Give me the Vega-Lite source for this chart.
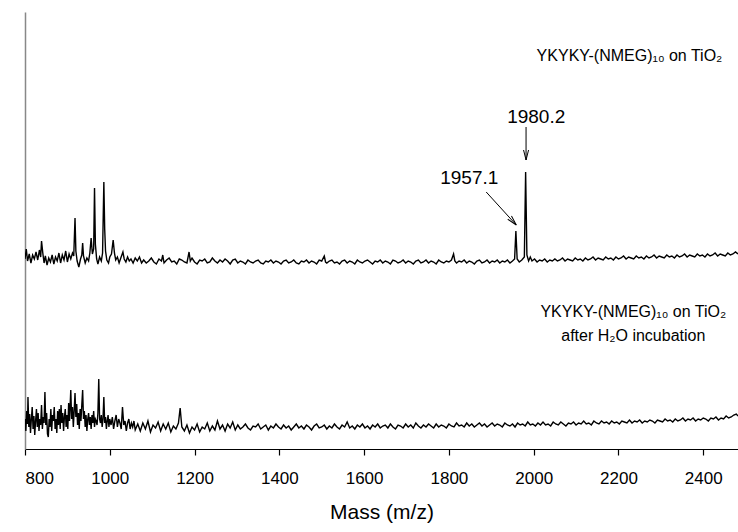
{
  "$schema": "https://vega.github.io/schema/vega-lite/v6.json",
  "width": 713,
  "height": 437,
  "autosize": {"type": "none"},
  "padding": {"left": 25, "top": 12, "right": 0, "bottom": 83},
  "background": "white",
  "config": {
    "view": {"stroke": null},
    "font": "Liberation Sans",
    "axis": {"labelFont": "Liberation Sans", "titleFont": "Liberation Sans"}
  },
  "datasets": {
    "top": [
      {"m":800,"v":190},{"m":803,"v":200},{"m":806,"v":188},{"m":810,"v":195},{"m":814,"v":186},{"m":818,"v":194},{"m":822,"v":190},{"m":826,"v":197},{"m":830,"v":189},{"m":834,"v":199},{"m":837,"v":192},{"m":839,"v":208},{"m":842,"v":196},{"m":845,"v":186},{"m":848,"v":193},{"m":852,"v":184},{"m":856,"v":191},{"m":860,"v":187},{"m":864,"v":194},{"m":868,"v":185},{"m":872,"v":192},{"m":876,"v":188},{"m":880,"v":196},{"m":884,"v":186},{"m":888,"v":194},{"m":892,"v":189},{"m":896,"v":198},{"m":900,"v":187},{"m":904,"v":195},{"m":908,"v":190},{"m":912,"v":196},{"m":915,"v":193},{"m":918,"v":231},{"m":920,"v":198},{"m":923,"v":188},{"m":927,"v":182},{"m":931,"v":190},{"m":934,"v":194},{"m":936,"v":206},{"m":938,"v":193},{"m":942,"v":186},{"m":946,"v":191},{"m":950,"v":188},{"m":953,"v":196},{"m":956,"v":211},{"m":959,"v":195},{"m":962,"v":200},{"m":964,"v":261},{"m":966,"v":205},{"m":969,"v":190},{"m":972,"v":185},{"m":976,"v":192},{"m":980,"v":188},{"m":983,"v":196},{"m":986,"v":267},{"m":988,"v":220},{"m":990,"v":198},{"m":993,"v":189},{"m":997,"v":186},{"m":1000,"v":192},{"m":1004,"v":195},{"m":1008,"v":209},{"m":1011,"v":196},{"m":1014,"v":189},{"m":1018,"v":192},{"m":1022,"v":186},{"m":1026,"v":191},{"m":1031,"v":197},{"m":1034,"v":190},{"m":1038,"v":187},{"m":1042,"v":192},{"m":1046,"v":188},{"m":1050,"v":190},{"m":1055,"v":186},{"m":1060,"v":191},{"m":1065,"v":188},{"m":1070,"v":192},{"m":1075,"v":186},
      {"m":1080,"v":189},{"m":1086,"v":186},{"m":1092,"v":188},{"m":1098,"v":191},{"m":1104,"v":187},{"m":1110,"v":185},{"m":1116,"v":190},{"m":1122,"v":188},{"m":1125,"v":194},{"m":1128,"v":186},{"m":1134,"v":189},{"m":1140,"v":191},{"m":1146,"v":187},{"m":1152,"v":188},{"m":1158,"v":185},{"m":1164,"v":190},{"m":1170,"v":189},{"m":1176,"v":187},{"m":1182,"v":186},{"m":1187,"v":197},{"m":1190,"v":188},{"m":1194,"v":191},{"m":1200,"v":187},{"m":1206,"v":185},{"m":1212,"v":189},{"m":1218,"v":188},{"m":1224,"v":190},{"m":1230,"v":186},{"m":1236,"v":187},{"m":1242,"v":191},{"m":1248,"v":188},{"m":1254,"v":186},{"m":1260,"v":189},{"m":1266,"v":187},{"m":1272,"v":190},{"m":1278,"v":188},{"m":1284,"v":185},{"m":1290,"v":189},{"m":1296,"v":190},
      {"m":1302,"v":186},{"m":1308,"v":188},{"m":1314,"v":187},{"m":1320,"v":185},{"m":1326,"v":189},{"m":1332,"v":187},{"m":1338,"v":186},{"m":1344,"v":188},{"m":1350,"v":189},{"m":1356,"v":186},{"m":1362,"v":185},{"m":1368,"v":188},{"m":1374,"v":187},{"m":1380,"v":189},{"m":1386,"v":186},{"m":1392,"v":188},{"m":1398,"v":187},{"m":1404,"v":185},{"m":1410,"v":188},{"m":1416,"v":189},{"m":1422,"v":186},{"m":1428,"v":187},{"m":1434,"v":189},{"m":1440,"v":186},{"m":1446,"v":185},{"m":1452,"v":188},{"m":1458,"v":187},{"m":1464,"v":189},{"m":1470,"v":186},{"m":1476,"v":188},{"m":1482,"v":187},{"m":1488,"v":185},{"m":1494,"v":189},{"m":1500,"v":188},{"m":1506,"v":193},{"m":1509,"v":187},{"m":1512,"v":186},{"m":1518,"v":188},{"m":1524,"v":189},{"m":1530,"v":186},{"m":1536,"v":187},{"m":1542,"v":185},{"m":1548,"v":188},{"m":1554,"v":189},{"m":1560,"v":186},{"m":1566,"v":188},{"m":1572,"v":187},{"m":1578,"v":185},{"m":1584,"v":189},{"m":1590,"v":187},{"m":1596,"v":186},{"m":1602,"v":188},{"m":1608,"v":189},{"m":1614,"v":187},{"m":1620,"v":185},{"m":1626,"v":188},{"m":1632,"v":187},{"m":1638,"v":189},{"m":1644,"v":186},{"m":1650,"v":188},{"m":1656,"v":187},{"m":1662,"v":185},{"m":1668,"v":189},{"m":1674,"v":188},{"m":1680,"v":186},{"m":1686,"v":187},{"m":1692,"v":189},{"m":1698,"v":186},{"m":1704,"v":188},{"m":1710,"v":187},{"m":1716,"v":185},{"m":1722,"v":188},{"m":1728,"v":189},{"m":1734,"v":186},{"m":1740,"v":187},{"m":1746,"v":189},{"m":1752,"v":186},{"m":1758,"v":188},{"m":1764,"v":187},{"m":1770,"v":185},{"m":1776,"v":189},{"m":1782,"v":187},{"m":1788,"v":186},{"m":1794,"v":188},{"m":1800,"v":187},{"m":1806,"v":189},{"m":1811,"v":195},{"m":1814,"v":188},{"m":1818,"v":186},{"m":1824,"v":188},{"m":1830,"v":187},{"m":1836,"v":189},{"m":1842,"v":186},{"m":1848,"v":188},{"m":1854,"v":187},{"m":1860,"v":185},{"m":1866,"v":188},{"m":1872,"v":189},{"m":1878,"v":186},{"m":1884,"v":187},{"m":1890,"v":189},{"m":1896,"v":186},{"m":1902,"v":188},{"m":1908,"v":187},{"m":1914,"v":189},{"m":1920,"v":186},{"m":1926,"v":188},{"m":1932,"v":187},{"m":1938,"v":189},{"m":1944,"v":186},{"m":1950,"v":188},{"m":1955,"v":190},{"m":1958,"v":218},{"m":1961,"v":190},{"m":1966,"v":187},{"m":1972,"v":189},{"m":1978,"v":192},{"m":1981,"v":277},{"m":1984,"v":194},{"m":1988,"v":188},{"m":1992,"v":192},{"m":1996,"v":188},
      {"m":2002,"v":190},{"m":2008,"v":187},{"m":2014,"v":189},{"m":2020,"v":188},{"m":2026,"v":190},{"m":2032,"v":187},{"m":2038,"v":189},{"m":2044,"v":188},{"m":2050,"v":190},{"m":2056,"v":188},{"m":2062,"v":189},{"m":2068,"v":191},{"m":2074,"v":188},{"m":2080,"v":190},{"m":2086,"v":189},{"m":2092,"v":188},{"m":2098,"v":191},{"m":2104,"v":189},{"m":2110,"v":190},{"m":2116,"v":188},{"m":2122,"v":191},{"m":2128,"v":189},{"m":2134,"v":190},{"m":2140,"v":192},{"m":2146,"v":189},{"m":2152,"v":191},{"m":2158,"v":190},{"m":2164,"v":189},{"m":2170,"v":192},{"m":2176,"v":190},{"m":2182,"v":191},{"m":2188,"v":189},{"m":2194,"v":192},{"m":2200,"v":190},{"m":2206,"v":191},{"m":2212,"v":193},{"m":2218,"v":190},{"m":2224,"v":192},{"m":2230,"v":191},{"m":2236,"v":190},{"m":2242,"v":193},{"m":2248,"v":191},{"m":2254,"v":192},{"m":2260,"v":190},{"m":2266,"v":193},{"m":2272,"v":191},{"m":2278,"v":192},{"m":2284,"v":194},{"m":2290,"v":191},{"m":2296,"v":193},{"m":2302,"v":192},{"m":2308,"v":191},{"m":2314,"v":194},{"m":2320,"v":192},{"m":2326,"v":193},{"m":2332,"v":191},{"m":2338,"v":194},{"m":2344,"v":192},{"m":2350,"v":193},{"m":2356,"v":195},{"m":2362,"v":192},{"m":2368,"v":194},{"m":2374,"v":193},{"m":2380,"v":192},{"m":2386,"v":195},{"m":2392,"v":193},{"m":2398,"v":194},{"m":2404,"v":192},{"m":2410,"v":195},{"m":2416,"v":193},{"m":2422,"v":194},{"m":2428,"v":196},{"m":2434,"v":193},{"m":2440,"v":195},{"m":2446,"v":194},{"m":2452,"v":193},{"m":2458,"v":196},{"m":2464,"v":194},{"m":2470,"v":195},{"m":2476,"v":197},{"m":2482,"v":195}
    ],
    "bottom": [
      {"m":800,"v":30},{"m":802,"v":18},{"m":804,"v":38},{"m":806,"v":25},{"m":807,"v":52},{"m":809,"v":22},{"m":811,"v":35},{"m":813,"v":16},{"m":815,"v":30},{"m":817,"v":42},{"m":819,"v":20},{"m":821,"v":33},{"m":823,"v":14},{"m":825,"v":28},{"m":827,"v":40},{"m":829,"v":22},{"m":831,"v":36},{"m":833,"v":18},{"m":835,"v":30},{"m":837,"v":24},{"m":839,"v":44},{"m":841,"v":20},{"m":843,"v":32},{"m":845,"v":26},{"m":847,"v":57},{"m":849,"v":24},{"m":851,"v":36},{"m":853,"v":15},{"m":855,"v":12},{"m":857,"v":30},{"m":859,"v":22},{"m":861,"v":40},{"m":863,"v":18},{"m":865,"v":34},{"m":867,"v":28},{"m":869,"v":42},{"m":871,"v":20},{"m":873,"v":30},{"m":875,"v":16},{"m":877,"v":38},{"m":879,"v":24},{"m":881,"v":40},{"m":883,"v":20},{"m":885,"v":44},{"m":887,"v":26},{"m":889,"v":36},{"m":891,"v":18},{"m":893,"v":32},{"m":895,"v":40},{"m":897,"v":22},{"m":899,"v":34},{"m":901,"v":20},{"m":903,"v":46},{"m":905,"v":28},{"m":908,"v":59},{"m":910,"v":30},{"m":912,"v":42},{"m":914,"v":22},{"m":916,"v":38},{"m":918,"v":56},{"m":920,"v":32},{"m":922,"v":45},{"m":924,"v":24},{"m":926,"v":36},{"m":928,"v":20},{"m":930,"v":40},{"m":932,"v":28},{"m":934,"v":44},{"m":936,"v":59},{"m":938,"v":30},{"m":940,"v":38},{"m":942,"v":22},{"m":944,"v":34},{"m":946,"v":18},{"m":948,"v":30},{"m":950,"v":36},{"m":952,"v":24},{"m":954,"v":32},{"m":956,"v":20},{"m":958,"v":34},{"m":960,"v":26},{"m":962,"v":38},{"m":964,"v":22},{"m":966,"v":30},{"m":968,"v":28},{"m":970,"v":24},{"m":972,"v":36},{"m":974,"v":70},{"m":976,"v":30},{"m":978,"v":26},{"m":980,"v":34},{"m":982,"v":22},{"m":984,"v":30},{"m":986,"v":52},{"m":988,"v":26},{"m":990,"v":32},{"m":992,"v":20},{"m":994,"v":28},{"m":996,"v":34},{"m":998,"v":22},{"m":1000,"v":30},{"m":1003,"v":24},{"m":1006,"v":32},{"m":1009,"v":20},{"m":1012,"v":28},{"m":1015,"v":34},{"m":1018,"v":22},{"m":1021,"v":30},{"m":1024,"v":26},{"m":1027,"v":20},{"m":1030,"v":42},{"m":1033,"v":24},{"m":1036,"v":28},{"m":1039,"v":18},{"m":1042,"v":26},{"m":1045,"v":30},{"m":1048,"v":20},{"m":1051,"v":26},{"m":1054,"v":22},{"m":1057,"v":28},{"m":1060,"v":19},
      {"m":1066,"v":25},{"m":1072,"v":18},{"m":1078,"v":26},{"m":1084,"v":20},{"m":1090,"v":28},{"m":1096,"v":17},{"m":1102,"v":24},{"m":1108,"v":21},{"m":1114,"v":27},{"m":1120,"v":18},{"m":1126,"v":25},{"m":1132,"v":20},{"m":1138,"v":26},{"m":1144,"v":17},{"m":1150,"v":23},{"m":1156,"v":20},{"m":1162,"v":26},{"m":1166,"v":41},{"m":1170,"v":22},{"m":1176,"v":18},{"m":1182,"v":24},{"m":1188,"v":16},{"m":1194,"v":22},{"m":1200,"v":19},{"m":1206,"v":25},{"m":1212,"v":17},{"m":1218,"v":22},{"m":1224,"v":20},{"m":1230,"v":26},{"m":1236,"v":18},{"m":1242,"v":23},{"m":1248,"v":19},{"m":1254,"v":28},{"m":1260,"v":20},{"m":1266,"v":24},{"m":1272,"v":18},{"m":1278,"v":25},{"m":1284,"v":21},{"m":1290,"v":27},{"m":1296,"v":19},
      {"m":1302,"v":24},{"m":1308,"v":20},{"m":1314,"v":22},{"m":1320,"v":25},{"m":1326,"v":21},{"m":1332,"v":19},{"m":1338,"v":23},{"m":1344,"v":22},{"m":1350,"v":25},{"m":1356,"v":20},{"m":1362,"v":22},{"m":1368,"v":24},{"m":1374,"v":19},{"m":1380,"v":23},{"m":1386,"v":21},{"m":1392,"v":25},{"m":1398,"v":22},{"m":1404,"v":20},{"m":1410,"v":24},{"m":1416,"v":21},{"m":1422,"v":23},{"m":1428,"v":19},{"m":1434,"v":22},{"m":1440,"v":25},{"m":1446,"v":21},{"m":1452,"v":23},{"m":1458,"v":20},{"m":1464,"v":24},{"m":1470,"v":22},{"m":1476,"v":19},{"m":1482,"v":23},{"m":1488,"v":25},{"m":1494,"v":21},{"m":1500,"v":22},{"m":1506,"v":24},{"m":1512,"v":20},{"m":1518,"v":23},{"m":1524,"v":21},{"m":1530,"v":25},{"m":1536,"v":22},{"m":1542,"v":20},{"m":1548,"v":24},{"m":1554,"v":22},{"m":1560,"v":27},{"m":1566,"v":21},{"m":1572,"v":23},{"m":1578,"v":20},{"m":1584,"v":24},{"m":1590,"v":22},{"m":1596,"v":25},{"m":1602,"v":21},{"m":1608,"v":23},{"m":1614,"v":20},{"m":1620,"v":24},{"m":1626,"v":22},{"m":1632,"v":25},{"m":1638,"v":21},{"m":1644,"v":23},{"m":1650,"v":24},{"m":1656,"v":21},{"m":1662,"v":25},{"m":1668,"v":22},{"m":1674,"v":20},{"m":1680,"v":24},{"m":1686,"v":23},{"m":1692,"v":21},{"m":1698,"v":25},{"m":1704,"v":22},{"m":1710,"v":24},{"m":1716,"v":21},{"m":1722,"v":26},{"m":1728,"v":23},{"m":1734,"v":21},{"m":1740,"v":24},{"m":1746,"v":22},{"m":1752,"v":25},{"m":1758,"v":23},{"m":1764,"v":21},{"m":1770,"v":25},{"m":1776,"v":22},{"m":1782,"v":24},{"m":1788,"v":23},{"m":1794,"v":21},{"m":1800,"v":25},{"m":1806,"v":23},{"m":1812,"v":22},{"m":1818,"v":26},{"m":1824,"v":23},{"m":1830,"v":24},{"m":1836,"v":22},{"m":1842,"v":26},{"m":1848,"v":23},{"m":1854,"v":25},{"m":1860,"v":22},{"m":1866,"v":24},{"m":1872,"v":26},{"m":1878,"v":23},{"m":1884,"v":25},{"m":1890,"v":22},{"m":1896,"v":24},{"m":1902,"v":26},{"m":1908,"v":23},{"m":1914,"v":25},{"m":1920,"v":24},{"m":1926,"v":22},{"m":1932,"v":26},{"m":1938,"v":24},{"m":1944,"v":23},{"m":1950,"v":25},{"m":1956,"v":22},{"m":1962,"v":26},{"m":1968,"v":24},{"m":1974,"v":25},{"m":1980,"v":23},{"m":1986,"v":27},{"m":1992,"v":24},{"m":1998,"v":25},{"m":2004,"v":23},{"m":2010,"v":26},{"m":2016,"v":24},{"m":2022,"v":27},{"m":2028,"v":24},{"m":2034,"v":25},{"m":2040,"v":23},{"m":2046,"v":27},{"m":2052,"v":25},{"m":2058,"v":24},{"m":2064,"v":27},{"m":2070,"v":25},{"m":2076,"v":23},{"m":2082,"v":26},{"m":2088,"v":25},{"m":2094,"v":27},{"m":2100,"v":24},{"m":2106,"v":26},{"m":2112,"v":25},{"m":2118,"v":28},{"m":2124,"v":25},{"m":2130,"v":26},{"m":2136,"v":24},{"m":2142,"v":28},{"m":2148,"v":26},{"m":2154,"v":25},{"m":2160,"v":28},{"m":2166,"v":26},{"m":2172,"v":27},{"m":2178,"v":25},{"m":2184,"v":28},{"m":2190,"v":26},{"m":2196,"v":27},{"m":2202,"v":25},{"m":2208,"v":28},{"m":2214,"v":27},{"m":2220,"v":26},{"m":2226,"v":29},{"m":2232,"v":26},{"m":2238,"v":28},{"m":2244,"v":27},{"m":2250,"v":29},{"m":2256,"v":26},{"m":2262,"v":28},{"m":2268,"v":27},{"m":2274,"v":29},{"m":2280,"v":28},{"m":2286,"v":26},{"m":2292,"v":29},{"m":2298,"v":28},{"m":2304,"v":27},{"m":2310,"v":30},{"m":2316,"v":28},{"m":2322,"v":29},{"m":2328,"v":27},{"m":2334,"v":30},{"m":2340,"v":28},{"m":2346,"v":29},{"m":2352,"v":31},{"m":2358,"v":28},{"m":2364,"v":30},{"m":2370,"v":29},{"m":2376,"v":31},{"m":2382,"v":28},{"m":2388,"v":30},{"m":2394,"v":29},{"m":2400,"v":31},{"m":2406,"v":30},{"m":2412,"v":28},{"m":2418,"v":31},{"m":2424,"v":30},{"m":2430,"v":32},{"m":2436,"v":29},{"m":2442,"v":31},{"m":2448,"v":30},{"m":2454,"v":33},{"m":2460,"v":31},{"m":2466,"v":32},{"m":2472,"v":34},{"m":2478,"v":35},{"m":2482,"v":33}
    ],
    "arrows": [
      {"m":1982,"v":322,"m2":1982,"v2":289},
      {"m":1888,"v":257,"m2":1959,"v2":224}
    ],
    "heads": [
      {"m":1982,"v":289,"angle":0},
      {"m":1959,"v":224,"angle":-42}
    ],
    "peaklabels": [
      {"m":2006,"v":332,"label":"1980.2"},
      {"m":1848,"v":271,"label":"1957.1"}
    ],
    "rightlabels": [
      {"m":2445,"v":393,"label":"YKYKY-(NMEG)₁₀ on TiO₂"}
    ],
    "centerlabels": [
      {"m":2235,"v":137,"label":"YKYKY-(NMEG)₁₀ on TiO₂"},
      {"m":2235,"v":113,"label":"after H₂O incubation"}
    ]
  },
  "encoding": {
    "x": {
      "field": "m", "type": "quantitative",
      "scale": {"domain": [800, 2482], "nice": false, "zero": false},
      "axis": {
        "title": "Mass (m/z)", "values": [800,1000,1200,1400,1600,1800,2000,2200,2400],
        "format": "d", "grid": false, "domainColor": "#000", "domainWidth": 1.2,
        "tickColor": "#000", "tickSize": 6, "tickWidth": 1.2,
        "labelFontSize": 17, "labelColor": "#000", "labelPadding": 15,
        "titleFontSize": 21, "titleFontWeight": "normal", "titleColor": "#000", "titlePadding": 15
      }
    },
    "y": {
      "field": "v", "type": "quantitative",
      "scale": {"domain": [0, 437], "nice": false},
      "axis": {"title": null, "labels": false, "ticks": false, "grid": false, "domainColor": "#888", "domainWidth": 1.5}
    }
  },
  "layer": [
    {"data": {"name": "top"}, "mark": {"type": "line", "color": "#000", "strokeWidth": 1.4, "clip": true}},
    {"data": {"name": "bottom"}, "mark": {"type": "line", "color": "#000", "strokeWidth": 1.4, "clip": true}},
    {"data": {"values": [{}]}, "mark": {"type": "rule", "color": "#444", "strokeWidth": 1.5}, "encoding": {"x": null, "y": {"datum": 437}}},
    {"data": {"name": "arrows"}, "mark": {"type": "rule", "color": "#000", "strokeWidth": 1}, "encoding": {"x2": {"field": "m2"}, "y2": {"field": "v2"}}},
    {"data": {"name": "heads"}, "mark": {"type": "point", "shape": "M -0.25 -1 L 0 0 L 0.25 -1", "filled": false, "stroke": "#000", "strokeWidth": 1, "size": 400, "opacity": 1}, "encoding": {"angle": {"field": "angle", "type": "quantitative", "scale": null}}},
    {"data": {"name": "peaklabels"}, "mark": {"type": "text", "fontSize": 19, "color": "#000", "align": "center", "baseline": "middle"}, "encoding": {"text": {"field": "label"}}},
    {"data": {"name": "rightlabels"}, "mark": {"type": "text", "fontSize": 16, "color": "#000", "align": "right", "baseline": "middle"}, "encoding": {"text": {"field": "label"}}},
    {"data": {"name": "centerlabels"}, "mark": {"type": "text", "fontSize": 16, "color": "#000", "align": "center", "baseline": "middle"}, "encoding": {"text": {"field": "label"}}}
  ]
}
